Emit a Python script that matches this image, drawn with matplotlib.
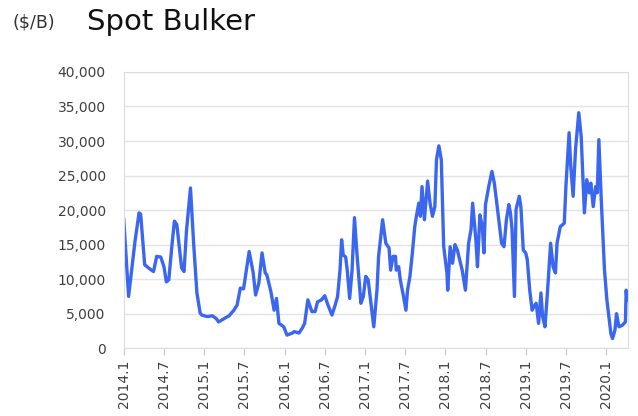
import numpy as np
import matplotlib.pyplot as plt
from matplotlib.ticker import FuncFormatter

# decimal year (x) and spot rate in $1000/day (y)
years = [
    2014.00, 2014.06, 2014.14, 2014.19, 2014.21, 2014.26, 2014.31, 2014.37, 2014.41, 2014.46,
    2014.50, 2014.53, 2014.56, 2014.60, 2014.63, 2014.66, 2014.72, 2014.75, 2014.78, 2014.83,
    2014.87, 2014.91, 2014.95, 2014.97, 2015.03,
    2015.06, 2015.10, 2015.15, 2015.18, 2015.25, 2015.31, 2015.37, 2015.41, 2015.45, 2015.49,
    2015.52, 2015.56, 2015.61, 2015.64, 2015.68, 2015.72, 2015.76, 2015.78, 2015.83, 2015.87,
    2015.90, 2015.93, 2015.99, 2016.03, 2016.10,
    2016.12, 2016.18, 2016.22, 2016.25, 2016.29, 2016.34, 2016.38, 2016.41, 2016.46, 2016.50,
    2016.54, 2016.59, 2016.63, 2016.66, 2016.69, 2016.71, 2016.73, 2016.76, 2016.78, 2016.81,
    2016.84, 2016.87, 2016.90, 2016.95, 2016.98, 2017.01, 2017.04, 2017.07, 2017.11,
    2017.15, 2017.17, 2017.22, 2017.26, 2017.30, 2017.32, 2017.35, 2017.38, 2017.39, 2017.42,
    2017.44, 2017.48, 2017.51, 2017.53, 2017.56, 2017.59, 2017.62, 2017.64, 2017.67, 2017.69,
    2017.71, 2017.74, 2017.78, 2017.81, 2017.84, 2017.87, 2017.89, 2017.92, 2017.95, 2017.98,
    2018.02, 2018.03, 2018.06, 2018.09, 2018.12, 2018.15, 2018.19,
    2018.21, 2018.25, 2018.29, 2018.32, 2018.34, 2018.38, 2018.40, 2018.43, 2018.46, 2018.48,
    2018.50, 2018.54, 2018.58, 2018.61, 2018.63, 2018.66, 2018.70, 2018.73, 2018.76, 2018.79,
    2018.81, 2018.83, 2018.86, 2018.88, 2018.92, 2018.94, 2018.97, 2019.00, 2019.02, 2019.05,
    2019.08, 2019.10, 2019.13, 2019.16, 2019.19, 2019.21, 2019.24,
    2019.27, 2019.31, 2019.34, 2019.37, 2019.39, 2019.43, 2019.48, 2019.50, 2019.54, 2019.56,
    2019.59, 2019.62, 2019.66, 2019.69, 2019.73, 2019.76, 2019.79, 2019.81, 2019.84, 2019.87,
    2019.89, 2019.91, 2019.94, 2019.98, 2020.01, 2020.04, 2020.06, 2020.08, 2020.11, 2020.13,
    2020.16, 2020.20, 2020.24, 2020.25, 2020.26,
]
rates_k = [
    18.6, 7.5, 15.5, 19.6, 19.4, 12.1, 11.6, 11.1, 13.3, 13.2,
    11.8, 9.6, 9.9, 15.0, 18.4, 17.9, 11.6, 11.1, 17.0, 23.2,
    15.0, 8.0, 5.1, 4.8, 4.6,
    4.6, 4.7, 4.3, 3.8, 4.3, 4.7, 5.5, 6.25, 8.7, 8.6,
    10.9, 14.0, 10.9, 7.7, 9.4, 13.8, 10.9, 10.6, 8.2, 5.5,
    7.2, 3.6, 3.1, 1.9, 2.2,
    2.4, 2.2, 2.9, 3.6, 7.0, 5.3, 5.3, 6.7, 7.0, 7.6,
    6.25, 4.8, 6.25, 7.5, 11.3, 15.7, 13.5, 13.2, 11.3, 7.2,
    11.3, 18.9, 13.8, 6.5, 7.5, 10.4, 9.9, 7.0, 3.1,
    8.4, 13.3, 18.6, 15.2, 14.5, 11.3, 13.3, 13.3, 11.3, 11.8,
    9.9, 7.5, 5.5, 8.4, 10.4, 13.8, 17.6, 19.1, 21.0, 19.1,
    23.4, 18.6, 24.2, 21.0, 19.1, 20.5, 27.3, 29.3, 27.3, 14.7,
    10.9, 8.4, 14.7, 12.3, 15.0, 14.2, 12.3,
    11.3, 8.4, 15.2, 17.2, 21.0, 15.7, 11.8, 19.3, 17.6, 13.8,
    20.8, 23.4, 25.6, 23.9, 22.0, 19.1, 15.2, 14.7, 18.6, 20.8,
    19.6, 17.2, 7.5, 20.1, 22.0, 20.5, 14.2, 13.8, 12.8, 8.4,
    5.5, 6.0, 6.5, 3.6, 8.0, 4.6, 3.1,
    8.0, 15.2, 11.8, 10.9, 15.2, 17.6, 18.1, 23.4, 31.2, 26.4,
    22.0, 28.8, 34.1, 30.7, 19.6, 24.4, 22.5, 23.9, 20.5, 23.4,
    22.5, 30.2, 21.5, 11.3, 7.0, 4.1, 2.1, 1.4, 2.6, 5.0,
    3.1, 3.3, 3.8, 8.4, 7.0,
]
tick_years = np.arange(2014.0, 2020.01, 0.5)
tick_labels = ['2014.1', '2014.7', '2015.1', '2015.7', '2016.1', '2016.7', '2017.1',
               '2017.7', '2018.1', '2018.7', '2019.1', '2019.7', '2020.1']

rates = np.array(rates_k) * 1000

fig = plt.figure(figsize=(6.38, 4.16), dpi=100)
ax = fig.add_axes([0.194, 0.163, 0.790, 0.664])

ax.plot(years, rates, color='#3a66f0', linewidth=2.4, solid_joinstyle='round')

ax.set_ylim(0, 40000)
ax.set_yticks(np.arange(0, 40001, 5000))
ax.yaxis.set_major_formatter(FuncFormatter(lambda v, p: f'{int(v):,}'))
ax.set_xlim(2014.0, 2020.27)
ax.set_xticks(tick_years)
ax.set_xticklabels(tick_labels, rotation=90)

ax.grid(axis='y', color='#e3e3e3', linewidth=1)
ax.set_axisbelow(True)
for s in ax.spines.values():
    s.set_color('#dcdcdc')
ax.tick_params(axis='y', length=0, pad=13, labelsize=10, labelcolor='#404040')
ax.tick_params(axis='x', length=5, color='#c8c8c8', pad=3, labelsize=10, labelcolor='#404040')

fig.text(0.019, 0.945, '($/B)', fontsize=12.5, color='#333333', va='center')
fig.text(0.137, 0.948, 'Spot Bulker', fontsize=21, color='#111111', va='center')

fig.savefig('out.png', dpi=100)
